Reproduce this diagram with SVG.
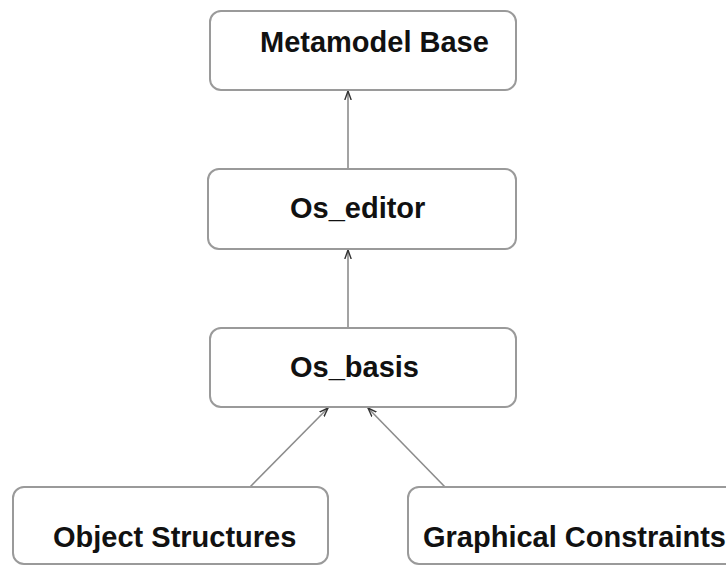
<svg xmlns="http://www.w3.org/2000/svg" width="726" height="566" viewBox="0 0 726 566">
<style>
.box{fill:#fff;stroke:#9a9a9a;stroke-width:2}
.lbl{font-family:"Liberation Sans",Arial,sans-serif;font-weight:bold;font-size:29px;fill:#111}
.con{stroke:#8c8c8c;stroke-width:1.6;fill:none}
</style>
<defs>
<marker id="arr" markerWidth="10" markerHeight="8" refX="9" refY="4" orient="auto" markerUnits="userSpaceOnUse">
<path d="M0,0.8 L9,4 L0,7.2" fill="none" stroke="#333" stroke-width="1.4"/>
</marker>
</defs>
<rect width="726" height="566" fill="#fff"/>
<g id="connectors">
<line class="con" x1="348" y1="168" x2="348" y2="91" marker-end="url(#arr)"/>
<line class="con" x1="348" y1="328" x2="348" y2="250" marker-end="url(#arr)"/>
<line class="con" x1="250" y1="487" x2="328" y2="408" marker-end="url(#arr)"/>
<line class="con" x1="445" y1="487" x2="368" y2="408" marker-end="url(#arr)"/>
</g>
<g id="metamodel-base">
<rect class="box" x="210" y="11" width="306" height="79" rx="11"/>
<text class="lbl" x="260" y="52">Metamodel Base</text>
</g>
<g id="os-editor">
<rect class="box" x="208" y="169" width="308" height="80" rx="11"/>
<text class="lbl" x="290" y="218">Os_editor</text>
</g>
<g id="os-basis">
<rect class="box" x="210" y="328" width="306" height="79" rx="11"/>
<text class="lbl" x="290" y="377">Os_basis</text>
</g>
<g id="object-structures">
<rect class="box" x="13" y="487" width="315" height="77" rx="11"/>
<text class="lbl" x="53" y="547">Object Structures</text>
</g>
<g id="graphical-constraints">
<rect class="box" x="408" y="487" width="330" height="77" rx="11"/>
<text class="lbl" x="423" y="547">Graphical Constraints</text>
</g>
</svg>
